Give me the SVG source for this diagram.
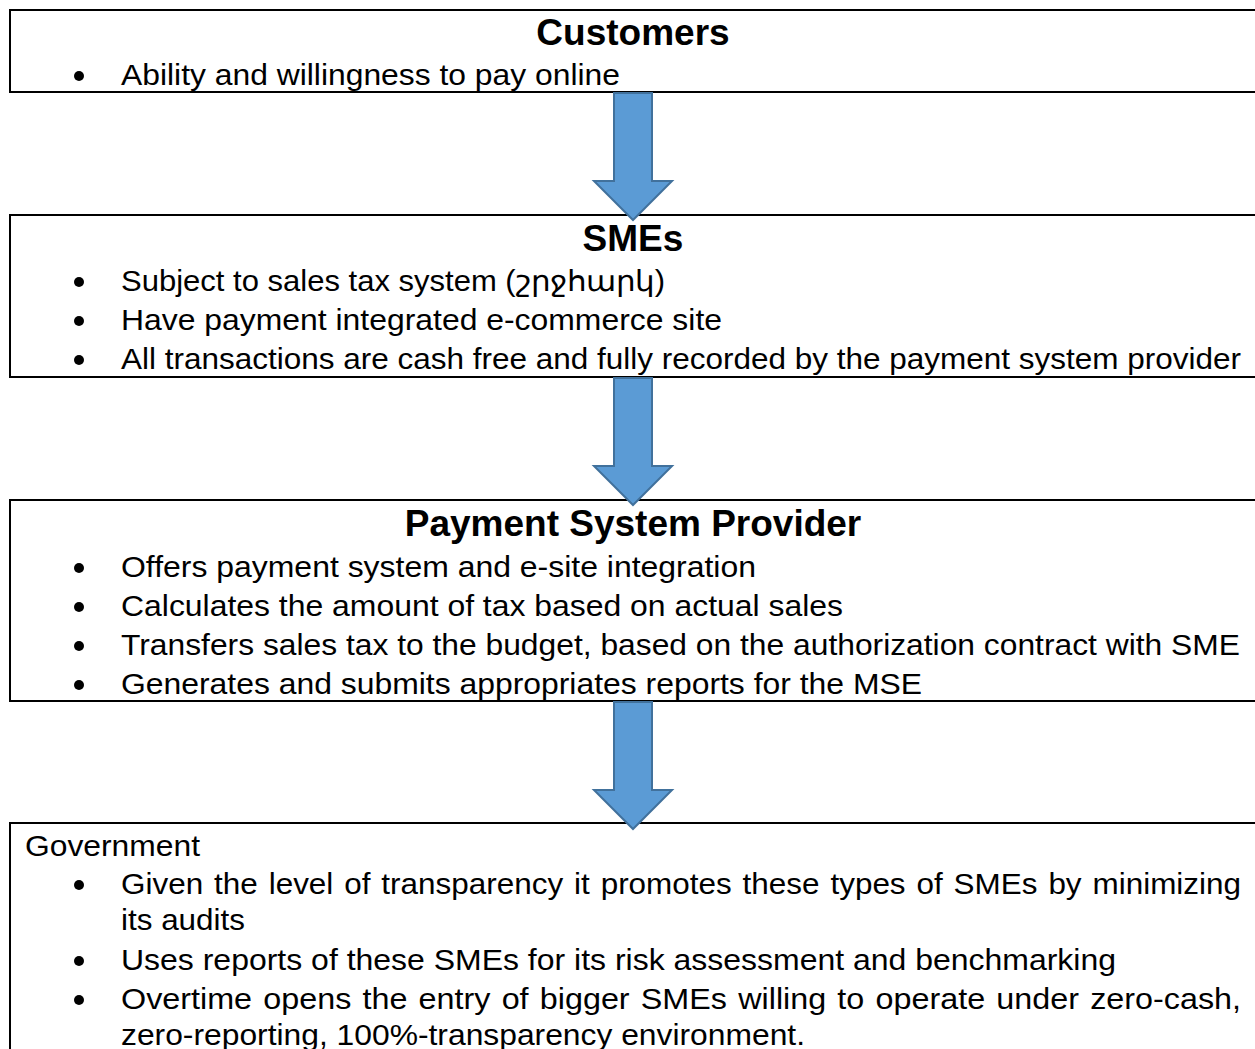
<svg xmlns="http://www.w3.org/2000/svg" width="1255" height="1049" viewBox="0 0 1255 1049">
  <style>
    .box { fill: #ffffff; stroke: #000000; stroke-width: 2; }
    .head { font-family: "Liberation Sans", Arial, sans-serif; font-size: 37px; font-weight: bold; fill: #000; text-anchor: middle; }
    .txt { font-family: "Liberation Sans", Arial, sans-serif; font-size: 29px; fill: #000; }
    .dot { fill: #000; }
    .arrow { fill: #5B9BD5; stroke: #41719C; stroke-width: 2; }
  </style>
  <defs>
    <path id="down-arrow" d="M -19 0 L 19 0 L 19 88 L 39 88 L 0 127 L -39 88 L -19 88 Z"/>
  </defs>

  <g id="customers">
    <rect class="box" x="10" y="10" width="1260" height="82"/>
    <text class="head" x="633" y="45">Customers</text>
    <circle class="dot" cx="79" cy="76" r="5"/>
    <text class="txt" x="121" y="85" textLength="499" lengthAdjust="spacingAndGlyphs">Ability and willingness to pay online</text>
  </g>

  <g id="smes">
    <rect class="box" x="10" y="215" width="1260" height="162"/>
    <text class="head" x="633" y="251">SMEs</text>
    <circle class="dot" cx="79" cy="282" r="5"/>
    <text class="txt" x="121" y="291" textLength="544" lengthAdjust="spacingAndGlyphs">Subject to sales tax system (շրջհարկ)</text>
    <circle class="dot" cx="79" cy="321" r="5"/>
    <text class="txt" x="121" y="330" textLength="601" lengthAdjust="spacingAndGlyphs">Have payment integrated e-commerce site</text>
    <circle class="dot" cx="79" cy="360" r="5"/>
    <text class="txt" x="121" y="369" textLength="1120" lengthAdjust="spacingAndGlyphs">All transactions are cash free and fully recorded by the payment system provider</text>
  </g>

  <g id="payment-system-provider">
    <rect class="box" x="10" y="500" width="1260" height="201"/>
    <text class="head" x="633" y="536">Payment System Provider</text>
    <circle class="dot" cx="79" cy="568" r="5"/>
    <text class="txt" x="121" y="577" textLength="635" lengthAdjust="spacingAndGlyphs">Offers payment system and e-site integration</text>
    <circle class="dot" cx="79" cy="607" r="5"/>
    <text class="txt" x="121" y="616" textLength="722" lengthAdjust="spacingAndGlyphs">Calculates the amount of tax based on actual sales</text>
    <circle class="dot" cx="79" cy="646" r="5"/>
    <text class="txt" x="121" y="655" textLength="1119" lengthAdjust="spacingAndGlyphs">Transfers sales tax to the budget, based on the authorization contract with SME</text>
    <circle class="dot" cx="79" cy="685" r="5"/>
    <text class="txt" x="121" y="694" textLength="801" lengthAdjust="spacingAndGlyphs">Generates and submits appropriates reports for the MSE</text>
  </g>

  <g id="government">
    <rect class="box" x="10" y="823" width="1260" height="240"/>
    <text class="txt" x="25" y="856" textLength="175" lengthAdjust="spacingAndGlyphs">Government</text>
    <circle class="dot" cx="79" cy="885" r="5"/>
    <text class="txt" x="121" y="894" textLength="1120" lengthAdjust="spacingAndGlyphs" word-spacing="2">Given the level of transparency it promotes these types of SMEs by minimizing</text>
    <text class="txt" x="121" y="930" textLength="124" lengthAdjust="spacingAndGlyphs">its audits</text>
    <circle class="dot" cx="79" cy="961" r="5"/>
    <text class="txt" x="121" y="970" textLength="995" lengthAdjust="spacingAndGlyphs">Uses reports of these SMEs for its risk assessment and benchmarking</text>
    <circle class="dot" cx="79" cy="1000" r="5"/>
    <text class="txt" x="121" y="1009" textLength="1120" lengthAdjust="spacingAndGlyphs" word-spacing="2">Overtime opens the entry of bigger SMEs willing to operate under zero-cash,</text>
    <text class="txt" x="121" y="1045" textLength="684" lengthAdjust="spacingAndGlyphs">zero-reporting, 100%-transparency environment.</text>
  </g>

  <g id="connectors">
    <use href="#down-arrow" class="arrow" transform="translate(633,93)"/>
    <use href="#down-arrow" class="arrow" transform="translate(633,378)"/>
    <use href="#down-arrow" class="arrow" transform="translate(633,702)"/>
  </g>
</svg>
